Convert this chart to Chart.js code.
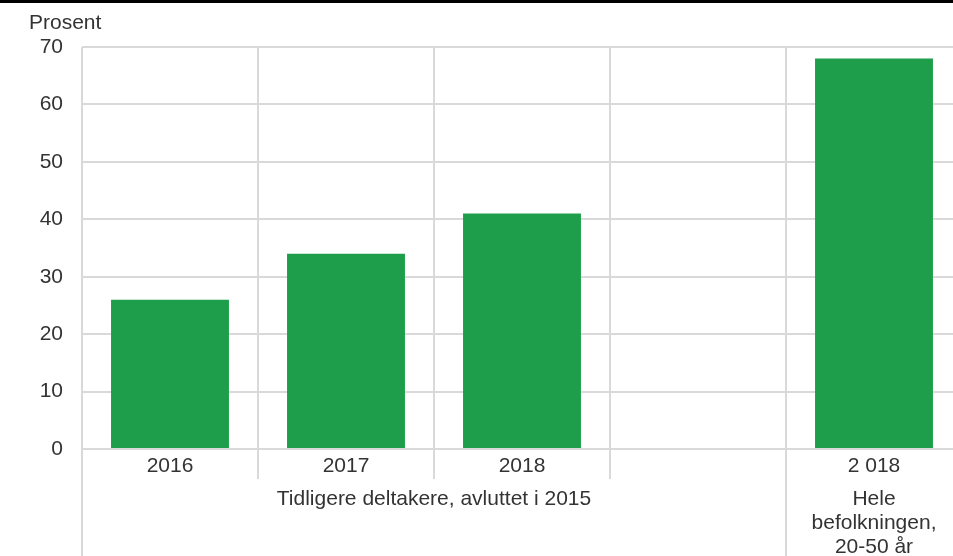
<!DOCTYPE html>
<html>
<head>
<meta charset="utf-8">
<script src="https://cdn.jsdelivr.net/npm/chart.js@4"></script>
<style>
  html, body { margin: 0; padding: 0; background: #fff; overflow: hidden; }
  #wrap { position: relative; width: 962px; height: 556px; }
</style>
</head>
<body>
<div id="wrap"><canvas id="chart"></canvas></div>
<script>
const categories = ["2016", "2017", "2018", "", "2 018"];
const values = [26, 34, 41, null, 68];
const yTicks = [0, 10, 20, 30, 40, 50, 60, 70];
const groups = [
  { lines: ["Tidligere deltakere, avluttet i 2015"], from: 0, to: 3 },
  { lines: ["Hele", "befolkningen,", "20-50 år"], from: 4, to: 4 },
];

const GRID = "#d9d9d9";
const TEXT = "#333333";
const FONT = "Liberation Sans, Arial, sans-serif";
const SIZE = 21;

// draws the top rule, unit label, group separators and group captions
const extras = {
  id: "extras",
  afterDraw(chart) {
    const { ctx, chartArea, scales } = chart;
    const x = scales.x;
    const step = x.getPixelForValue(1) - x.getPixelForValue(0);
    const edge = (i) => x.getPixelForValue(i) - step / 2;

    ctx.save();
    ctx.fillStyle = "#000";
    ctx.fillRect(0, 0, chart.width, 3);

    ctx.fillStyle = TEXT;
    ctx.font = SIZE + "px " + FONT;
    ctx.textAlign = "left";
    ctx.textBaseline = "middle";
    ctx.fillText("Prosent", 29, 23);

    ctx.strokeStyle = GRID;
    ctx.lineWidth = 2;
    const bottom = chartArea.bottom;
    groups.forEach((g) => {
      for (let i = g.from; i <= g.to + 1; i++) {
        const px = edge(i);
        const outer = i === g.from || i === g.to + 1;
        ctx.beginPath();
        ctx.moveTo(px, bottom);
        ctx.lineTo(px, outer ? chart.height : bottom + 30);
        ctx.stroke();
      }
      const cx = (edge(g.from) + edge(g.to + 1)) / 2;
      ctx.textAlign = "center";
      g.lines.forEach((t, k) => {
        ctx.fillText(t, cx, bottom + 50 + k * 24);
      });
    });
    ctx.restore();
  },
};

new Chart(document.getElementById("chart"), {
  type: "bar",
  data: {
    labels: categories,
    datasets: [
      {
        data: values,
        backgroundColor: "#1e9e4a",
        categoryPercentage: 1,
        barPercentage: 0.67,
      },
    ],
  },
  options: {
    responsive: true,
    maintainAspectRatio: false,
    animation: false,
    layout: { padding: { top: 47, left: 0, right: 0, bottom: 0 } },
    plugins: { legend: { display: false }, tooltip: { enabled: false } },
    scales: {
      x: {
        offset: true,
        grid: { offset: true, color: GRID, lineWidth: 2, drawTicks: false },
        border: { display: false },
        ticks: { color: TEXT, font: { family: FONT, size: SIZE }, padding: 5, maxRotation: 0 },
        afterFit: (s) => { s.height = 107; },
      },
      y: {
        min: 0,
        max: 70,
        afterBuildTicks: (s) => { s.ticks = yTicks.map((v) => ({ value: v })); },
        grid: { color: GRID, lineWidth: 2, drawTicks: false },
        border: { display: false },
        ticks: { color: TEXT, font: { family: FONT, size: SIZE }, padding: 19 },
        afterFit: (s) => { s.width = 82; },
      },
    },
  },
  plugins: [extras],
});
</script>
</body>
</html>
